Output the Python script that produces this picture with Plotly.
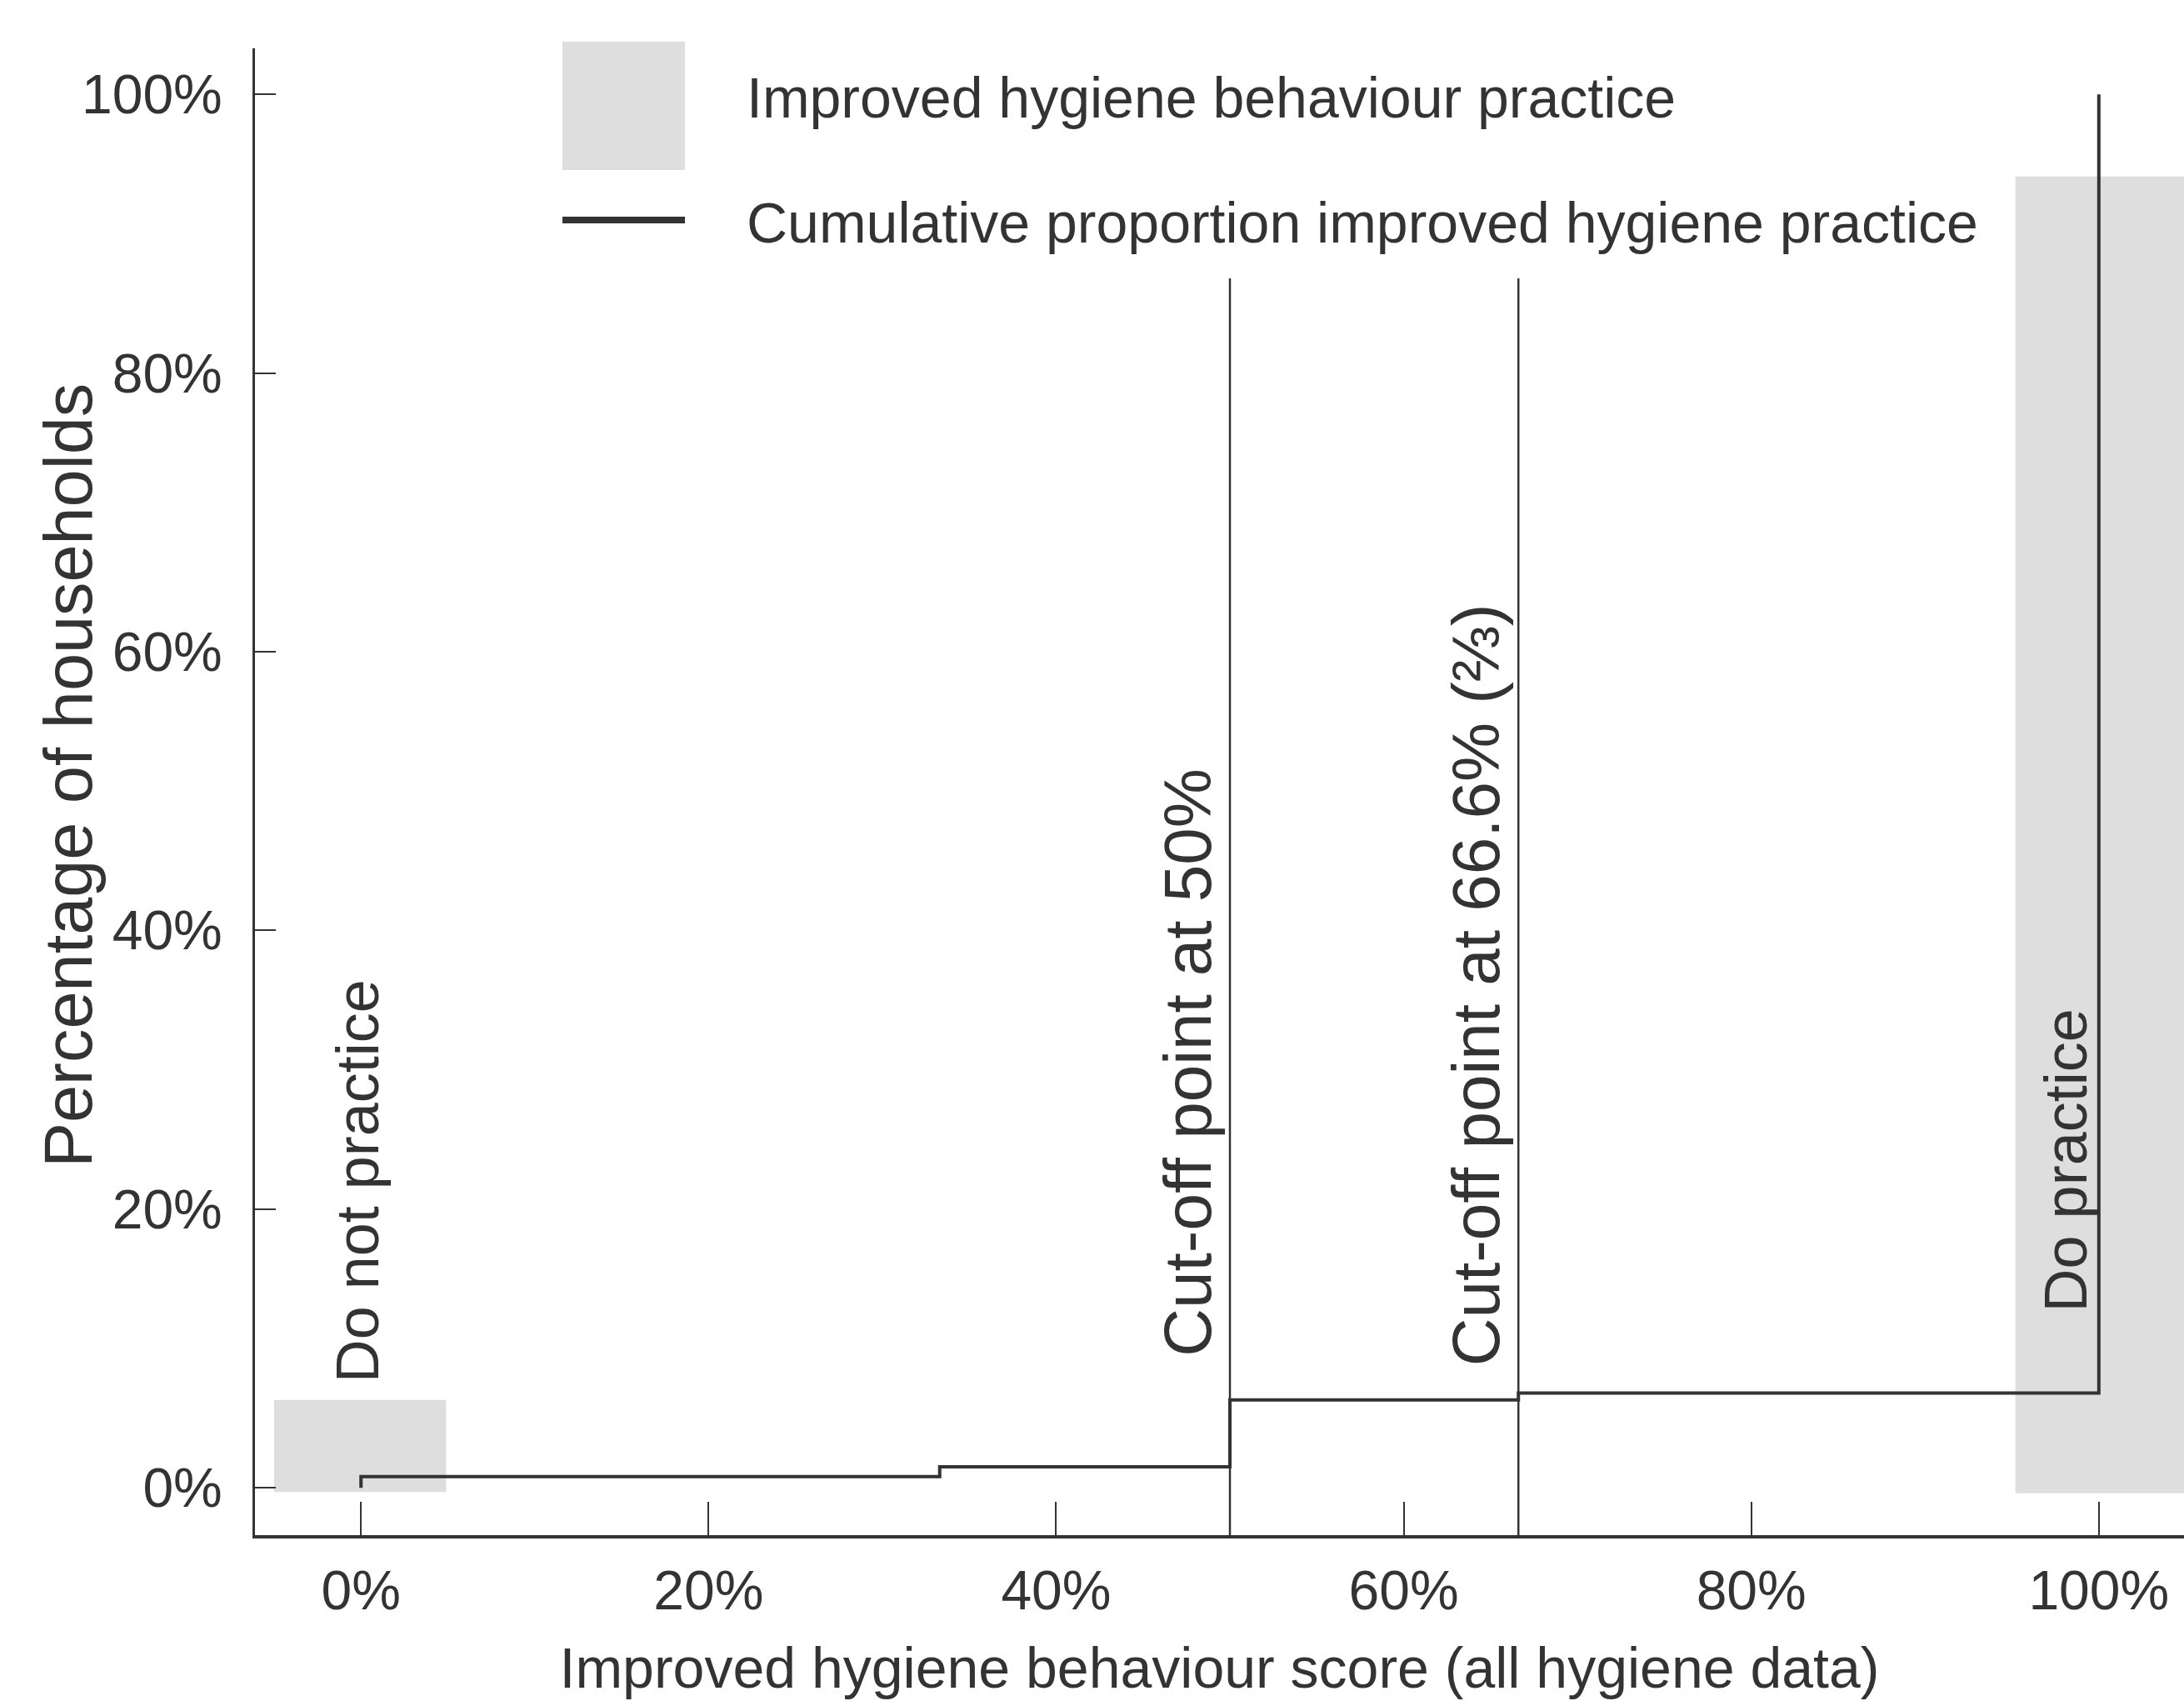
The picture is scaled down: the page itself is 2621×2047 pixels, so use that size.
import plotly.graph_objects as go

# ---- data ----
score_steps = [0, 0, 33.3, 33.3, 50, 50, 66.6, 66.6, 100, 100]
cum_steps = [0, 0.8, 0.8, 1.5, 1.5, 6.3, 6.3, 6.8, 6.8, 100]

cutoff_x = [50, 66.6]
cutoff_top = [86.8, 86.8]

band_x0 = [-5.0, 95.2]
band_x1 = [4.9, 106.0]
band_y0 = [-0.3, -0.4]
band_y1 = [6.3, 94.1]
band_labels = ["Do not practice", "Do practice"]
band_label_x = [-0.2, 98.1]
band_label_y = [22.0, 23.5]

cutoff_labels = ["Cut-off point at 50%", "Cut-off point at 66.6% (⅔)"]
cutoff_label_y = [30.5, 36.1]

tick_vals = [0, 20, 40, 60, 80, 100]
tick_text = ["0%", "20%", "40%", "60%", "80%", "100%"]

X_RANGE = [-6.1, 104.9]
Y_RANGE = [-3.4, 103.3]

FONT = "Liberation Sans, Arial, Helvetica, sans-serif"
INK = "#333333"
BAND = "#dedede"

fig = go.Figure()

# shaded bands (improved hygiene behaviour practice)
for x0, x1, y0, y1 in zip(band_x0, band_x1, band_y0, band_y1):
    fig.add_trace(go.Scatter(x=[x0, x1, x1, x0, x0], y=[y0, y0, y1, y1, y0],
                             mode="lines", fill="toself", fillcolor=BAND,
                             line=dict(width=0, color=BAND), hoverinfo="skip",
                             showlegend=False))

# cut-off lines
cx, cy = [], []
for x, top in zip(cutoff_x, cutoff_top):
    cx += [x, x, None]
    cy += [Y_RANGE[0], top, None]
fig.add_trace(go.Scatter(x=cx, y=cy, mode="lines", line=dict(color=INK, width=2.5),
                         showlegend=False, hoverinfo="skip"))

# cumulative proportion step line
fig.add_trace(go.Scatter(x=score_steps, y=cum_steps, mode="lines",
                         line=dict(color=INK, width=4), showlegend=False,
                         name="Cumulative proportion improved hygiene practice"))

annotations = []
for t, x, y in zip(band_labels, band_label_x, band_label_y):
    annotations.append(dict(x=x, y=y, xref="x", yref="y", text=t, textangle=-90,
                            showarrow=False, xanchor="center", yanchor="middle",
                            font=dict(family=FONT, size=72, color=INK)))
for t, x, y in zip(cutoff_labels, cutoff_x, cutoff_label_y):
    annotations.append(dict(x=x, y=y, xref="x", yref="y", text=t, textangle=-90,
                            showarrow=False, xanchor="right", yanchor="middle", xshift=-4,
                            font=dict(family=FONT, size=80, color=INK)))

# paper-coordinate helpers for the legend / y title
PW, PH = 2621 - 306, 1842 - 58
def px(v):
    return (v - 306) / PW
def py(v):
    return (1842 - v) / PH

# y axis title
annotations.append(dict(x=px(82), y=py(931), xref="paper", yref="paper",
                        text="Percentage of households", textangle=-90, showarrow=False,
                        xanchor="center", yanchor="middle",
                        font=dict(family=FONT, size=81, color=INK)))

# manual legend
shapes = [
    dict(type="rect", xref="paper", yref="paper", x0=px(675), x1=px(822), y0=py(204), y1=py(50),
         fillcolor=BAND, line=dict(width=0), layer="above"),
    dict(type="line", xref="paper", yref="paper", x0=px(675), x1=px(822), y0=py(264), y1=py(264),
         line=dict(color=INK, width=8)),
]
annotations.append(dict(x=px(894), y=py(117), xref="paper", yref="paper",
                        text="Improved hygiene behaviour practice", showarrow=False,
                        xanchor="left", yanchor="middle",
                        font=dict(family=FONT, size=68, color=INK)))
annotations.append(dict(x=px(894), y=py(267), xref="paper", yref="paper",
                        text="Cumulative proportion improved hygiene practice", showarrow=False,
                        xanchor="left", yanchor="middle",
                        font=dict(family=FONT, size=68, color=INK)))

fig.update_layout(
    width=2621, height=2047, autosize=False,
    margin=dict(l=306, r=0, t=58, b=205, pad=0),
    paper_bgcolor="white", plot_bgcolor="white",
    showlegend=False,
    annotations=annotations, shapes=shapes,
    xaxis=dict(range=X_RANGE, showline=True, linewidth=4, linecolor=INK, automargin=False,
               ticks="inside", ticklen=40, tickwidth=2, tickcolor=INK,
               tickvals=tick_vals, ticktext=tick_text, showgrid=False, zeroline=False,
               tickfont=dict(family=FONT, size=66, color=INK), ticklabelstandoff=6,
               ticklabeloverflow="allow",
               title=dict(text="Improved hygiene behaviour score (all hygiene data)",
                          font=dict(family=FONT, size=68, color=INK), standoff=34)),
    yaxis=dict(range=Y_RANGE, showline=True, linewidth=3, linecolor=INK, automargin=False,
               ticks="inside", ticklen=25, tickwidth=2, tickcolor=INK,
               tickvals=tick_vals, ticktext=tick_text, showgrid=False, zeroline=False,
               tickfont=dict(family=FONT, size=66, color=INK), ticklabelstandoff=23),
)

fig.write_html("out.html", config={"displayModeBar": False},
               post_script="document.body.style.margin='0';")
